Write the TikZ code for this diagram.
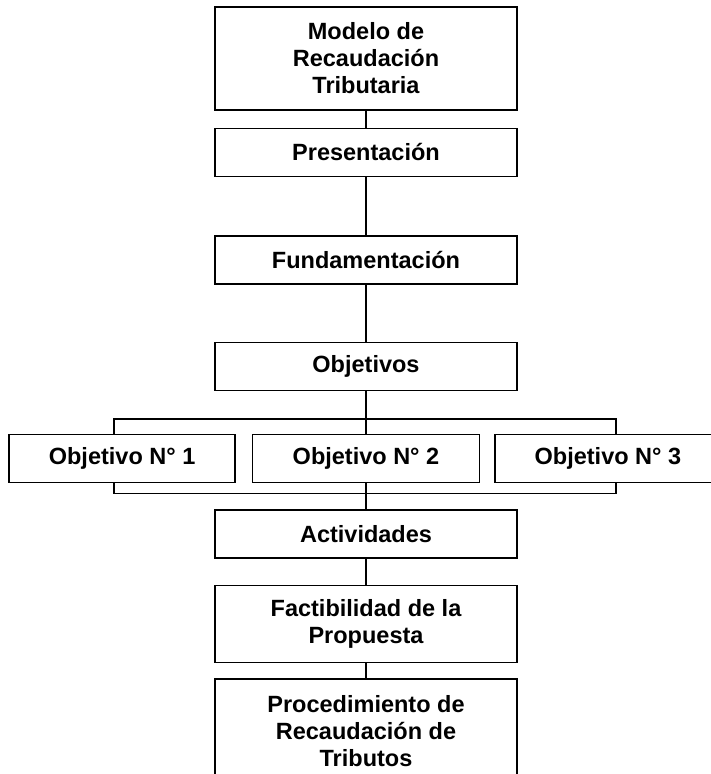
\documentclass[tikz,border=0pt]{standalone}
\usepackage{fontspec}
\setmainfont{Liberation Sans}
\usepackage{tikz}
\usetikzlibrary{positioning}

\begin{document}
\begin{tikzpicture}[
    x=1pt, y=1pt,
    font=\bfseries\fontsize{23.5}{27}\selectfont,
    % Styles
    block/.style={rectangle, draw=black, fill=white, line width=1.4pt, inner sep=0pt, minimum width=302pt, minimum height=48pt, align=center},
    tallblock/.style={block, minimum height=103pt},
    objblock/.style={block, minimum width=226pt},
    line/.style={-, line width=1.3pt, draw=black}
]
\useasboundingbox (0,0) rectangle (711,-774);
\clip (0,0) rectangle (711,-774);

% --- Main column ---
\node[tallblock] (modelo) at (366,-58.5) {Modelo de\\Recaudación\\Tributaria};
\node[block, below=17pt of modelo] (pres) {Presentación};
\node[block, below=58pt of pres] (fund) {Fundamentación};
\node[block, below=57pt of fund] (objs) {Objetivos};

% --- Objectives row ---
\node[objblock, minimum width=227pt, below=43pt of objs] (obj2) {Objetivo N° 2};
\node[objblock, left=16pt of obj2] (obj1) {Objetivo N° 1};
\node[objblock, right=14pt of obj2] (obj3) {Objetivo N° 3};
\coordinate[above=15pt of obj2.north] (splitT);
\coordinate[below=10pt of obj2.south] (splitB);

% --- Lower column ---
\node[block, below=26pt of obj2] (act) {Actividades};
\node[block, minimum height=77pt, below=26pt of act] (fact) {Factibilidad de la\\Propuesta};
\node[tallblock, minimum height=105pt, below=15pt of fact] (proc) {Procedimiento de\\Recaudación de\\Tributos};

% --- Connections ---
\draw[line] (modelo) -- (pres);
\draw[line] (pres) -- (fund);
\draw[line] (fund) -- (objs);
\draw[line] (objs) -- (splitT);

% Split to objectives
\draw[line] (splitT) -- (obj2);
\draw[line] (splitT) -| ([xshift=-8pt]obj1.north);
\draw[line] (splitT) -| ([xshift=8pt]obj3.north);

% Merge objectives
\draw[line] (obj2) -- (splitB);
\draw[line] ([xshift=-8pt]obj1.south) |- (splitB);
\draw[line] ([xshift=8pt]obj3.south) |- (splitB);
\draw[line] (splitB) -- (act);

\draw[line] (act) -- (fact);
\draw[line] (fact) -- (proc);

\end{tikzpicture}
\end{document}
